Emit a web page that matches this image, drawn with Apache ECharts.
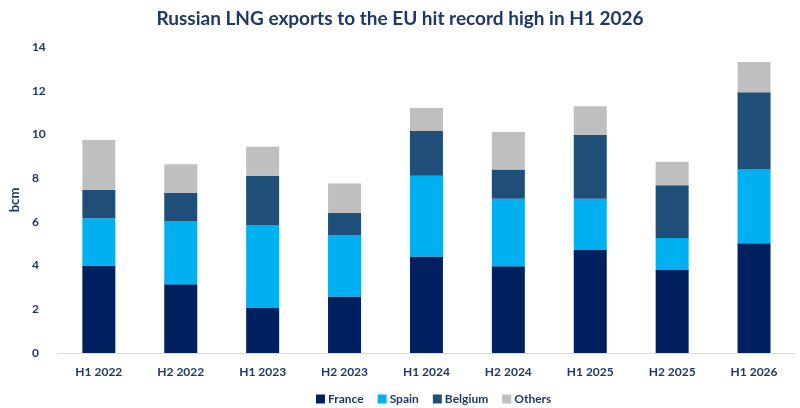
<!DOCTYPE html>
<html>
<head>
<meta charset="utf-8">
<script src="https://cdn.jsdelivr.net/npm/echarts@6/dist/echarts.min.js"></script>
<style>html,body{margin:0;padding:0;background:#fff;}#c{width:800px;height:408px;}</style>
</head>
<body>
<div id="c"></div>
<script>
const categories = ['H1 2022','H2 2022','H1 2023','H2 2023','H1 2024','H2 2024','H1 2025','H2 2025','H1 2026'];
const france  = [4.00, 3.14, 2.06, 2.58, 4.41, 3.97, 4.71, 3.80, 5.02];
const spain   = [2.17, 2.88, 3.77, 2.82, 3.70, 3.09, 2.35, 1.46, 3.37];
const belgium = [1.30, 1.31, 2.28, 1.02, 2.05, 1.33, 2.93, 2.41, 3.54];
const others  = [2.28, 1.30, 1.33, 1.34, 1.05, 1.72, 1.30, 1.08, 1.38];
const yTicks = [0, 2, 4, 6, 8, 10, 12, 14];

const FONT = 'Lato';
const TXT = '#1F3864';
const chart = echarts.init(document.getElementById('c'), null, {renderer: 'canvas'});
function s(name, data, color) {
  return {name, type: 'bar', stack: 'total', data, barWidth: 33,
    itemStyle: {color}, emphasis: {disabled: true}};
}
chart.setOption({
  animation: false,
  backgroundColor: '#fff',
  textStyle: {fontFamily: FONT},
  title: {
    text: 'Russian LNG exports to the EU hit record high in H1 2026',
    left: 'center', top: 4,
    textStyle: {fontFamily: FONT, fontSize: 19, fontWeight: 'bold', color: TXT}
  },
  legend: {
    data: ['France', 'Spain', 'Belgium', 'Others'],
    left: 311, top: 388,
    itemWidth: 9, itemHeight: 9, itemGap: 14,
    icon: 'rect',
    textStyle: {fontFamily: FONT, fontSize: 12, fontWeight: 'bold', color: TXT, padding: [0, 0, 0, -2]}
  },
  grid: {left: 47, right: 5, top: 47, bottom: 55, containLabel: false},
  xAxis: {
    type: 'category', data: categories,
    axisLine: {lineStyle: {color: '#D9D9D9', width: 1}},
    axisTick: {show: false},
    axisLabel: {fontFamily: FONT, fontSize: 12, fontWeight: 'bold', color: TXT, margin: 13}
  },
  yAxis: {
    type: 'value', min: yTicks[0], max: yTicks[yTicks.length - 1], interval: 2,
    name: 'bcm', nameLocation: 'middle', nameGap: 35, nameRotate: 90,
    nameTextStyle: {fontFamily: FONT, fontSize: 13, fontWeight: 'bold', color: TXT},
    axisLine: {show: false}, axisTick: {show: false}, splitLine: {show: false},
    axisLabel: {fontFamily: FONT, fontSize: 12, fontWeight: 'bold', color: TXT, margin: 26, align: 'left'}
  },
  series: [
    s('France', france, '#002060'),
    s('Spain', spain, '#00B0F0'),
    s('Belgium', belgium, '#1F4E79'),
    s('Others', others, '#BFBFBF')
  ]
});
</script>
</body>
</html>
